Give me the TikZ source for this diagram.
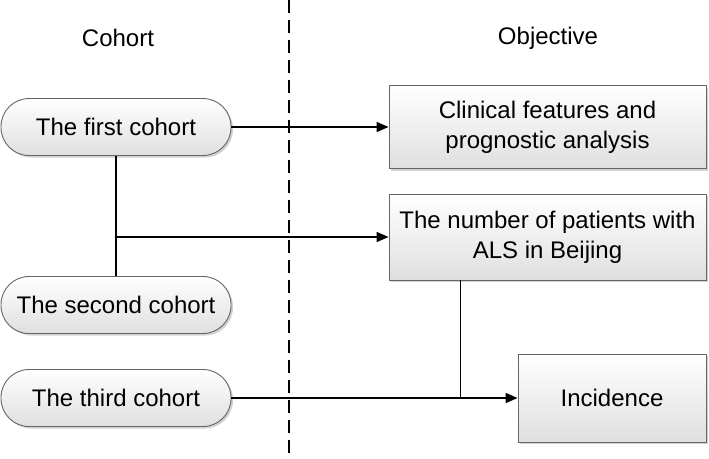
\documentclass[tikz,border=0pt]{standalone}
\usepackage{fontspec}
\setmainfont{Liberation Sans}
\usetikzlibrary{arrows.meta,shadows}
\begin{document}
\begin{tikzpicture}[x=1pt,y=-1pt,
  base/.style={draw=gray!80!black, line width=0.9pt, top color=white, bottom color=gray!25,
    drop shadow={shadow xshift=2pt, shadow yshift=-2pt, fill=gray!60, opacity=0.6},
    font=\fontsize{24}{30}\selectfont, align=center, inner sep=0pt},
  pill/.style={base, rounded corners=28pt, minimum width=230pt, minimum height=57pt},
  objbox/.style={base, minimum height=84pt},
  conn/.style={line width=1.6pt, black},
  arr/.style={conn, -{Triangle[length=12pt,width=10pt]}},
  hdr/.style={font=\fontsize{24}{30}\selectfont}
]
\useasboundingbox (0,0) rectangle (709,458);
\node[hdr] (hc) at (118,38) {Cohort};
\node[hdr] (ho) at (548,38) {Objective};
\coordinate (dtop) at (289,0);
\coordinate (dbot) at (289,458);
\draw[line width=1.6pt, dash pattern=on 13pt off 7pt] (dtop) -- (dbot);

\node[pill] (p1) at (116,127) {The first cohort};
\node[pill] (p2) at (116,305) {The second cohort};
\node[pill] (p3) at (116,398) {The third cohort};

\node[objbox, minimum width=317pt, minimum height=83pt] (b1) at (547.5,127) {Clinical features and\\prognostic analysis};
\node[objbox, minimum width=317pt, minimum height=86pt] (b2) at (547.5,237) {The number of patients with\\ALS in Beijing};
\node[objbox, minimum width=188pt, minimum height=88pt] (b3) at (612,398) {Incidence};

\draw[arr] (p1.east) -- (b1.west);
\draw[conn] (p1.south) -- (p2.north);
\coordinate (j1) at (p1.south |- b2.west);
\draw[arr] (j1) -- (b2.west);
\path (b2.south west) ++(72,0) coordinate (j2);
\draw[conn] (j2) -- (j2 |- b3.west);
\draw[arr] (p3.east) -- (b3.west);
\end{tikzpicture}
\end{document}
